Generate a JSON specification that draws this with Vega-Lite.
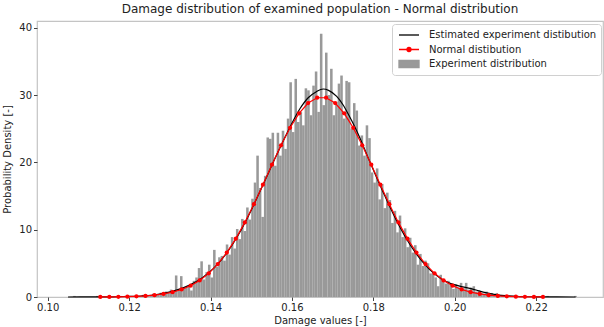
{
  "$schema": "https://vega.github.io/schema/vega-lite/v6.json",
  "width": 566,
  "height": 276,
  "autosize": {"type": "none"},
  "padding": {"left": 37, "top": 21, "right": 1, "bottom": 30},
  "background": "white",
  "title": {"text": "Damage distribution of examined population - Normal distribution", "font": "DejaVu Sans", "fontSize": 12, "fontWeight": "normal", "color": "#222222", "offset": 5, "anchor": "middle"},
  "config": {
    "view": {"stroke": "#c4c4c4", "strokeWidth": 1.2},
    "axis": {"domain": false, "grid": false, "tickColor": "#444444", "tickSize": 3.5, "labelFont": "DejaVu Sans", "labelFontSize": 10, "labelColor": "#222222", "titleFont": "DejaVu Sans", "titleFontSize": 10, "titleFontWeight": "normal", "titleColor": "#222222", "labelPadding": 2}
  },
  "datasets": {
    "hist": [
      {"x": 0.10625, "xe": 0.106875, "d": 0.16},
      {"x": 0.111875, "xe": 0.1125, "d": 0.16},
      {"x": 0.115, "xe": 0.115625, "d": 0.16},
      {"x": 0.1175, "xe": 0.118125, "d": 0.16},
      {"x": 0.119375, "xe": 0.12, "d": 0.16},
      {"x": 0.12, "xe": 0.120625, "d": 0.16},
      {"x": 0.12125, "xe": 0.121875, "d": 0.16},
      {"x": 0.121875, "xe": 0.1225, "d": 0.16},
      {"x": 0.123125, "xe": 0.12375, "d": 0.32},
      {"x": 0.12375, "xe": 0.124375, "d": 0.16},
      {"x": 0.124375, "xe": 0.125, "d": 0.32},
      {"x": 0.125, "xe": 0.125625, "d": 0.16},
      {"x": 0.125625, "xe": 0.12625, "d": 0.48},
      {"x": 0.12625, "xe": 0.126875, "d": 0.32},
      {"x": 0.126875, "xe": 0.1275, "d": 0.32},
      {"x": 0.1275, "xe": 0.128125, "d": 0.64},
      {"x": 0.128125, "xe": 0.12875, "d": 0.48},
      {"x": 0.12875, "xe": 0.129375, "d": 0.8},
      {"x": 0.129375, "xe": 0.13, "d": 0.64},
      {"x": 0.13, "xe": 0.130625, "d": 1.1},
      {"x": 0.130625, "xe": 0.13125, "d": 0.64},
      {"x": 0.13125, "xe": 0.131875, "d": 3.2},
      {"x": 0.131875, "xe": 0.1325, "d": 1.1},
      {"x": 0.1325, "xe": 0.133125, "d": 3.1},
      {"x": 0.133125, "xe": 0.13375, "d": 1.3},
      {"x": 0.13375, "xe": 0.134375, "d": 1.4},
      {"x": 0.134375, "xe": 0.135, "d": 1.6},
      {"x": 0.135, "xe": 0.135625, "d": 0.96},
      {"x": 0.135625, "xe": 0.13625, "d": 2.4},
      {"x": 0.13625, "xe": 0.136875, "d": 2.9},
      {"x": 0.136875, "xe": 0.1375, "d": 4.3},
      {"x": 0.1375, "xe": 0.138125, "d": 5.3},
      {"x": 0.138125, "xe": 0.13875, "d": 2.6},
      {"x": 0.13875, "xe": 0.139375, "d": 3.7},
      {"x": 0.139375, "xe": 0.14, "d": 4.8},
      {"x": 0.14, "xe": 0.140625, "d": 2.9},
      {"x": 0.140625, "xe": 0.14125, "d": 7.0},
      {"x": 0.14125, "xe": 0.141875, "d": 4.5},
      {"x": 0.141875, "xe": 0.1425, "d": 5.9},
      {"x": 0.1425, "xe": 0.143125, "d": 6.1},
      {"x": 0.143125, "xe": 0.14375, "d": 5.4},
      {"x": 0.14375, "xe": 0.144375, "d": 7.8},
      {"x": 0.144375, "xe": 0.145, "d": 6.3},
      {"x": 0.145, "xe": 0.145625, "d": 8.9},
      {"x": 0.145625, "xe": 0.14625, "d": 7.2},
      {"x": 0.14625, "xe": 0.146875, "d": 10.1},
      {"x": 0.146875, "xe": 0.1475, "d": 8.6},
      {"x": 0.1475, "xe": 0.148125, "d": 11.6},
      {"x": 0.148125, "xe": 0.14875, "d": 9.8},
      {"x": 0.14875, "xe": 0.149375, "d": 13.3},
      {"x": 0.149375, "xe": 0.15, "d": 11.5},
      {"x": 0.15, "xe": 0.150625, "d": 14.6},
      {"x": 0.150625, "xe": 0.15125, "d": 17.0},
      {"x": 0.15125, "xe": 0.151875, "d": 21.0},
      {"x": 0.151875, "xe": 0.1525, "d": 16.2},
      {"x": 0.1525, "xe": 0.153125, "d": 11.9},
      {"x": 0.153125, "xe": 0.15375, "d": 18.0},
      {"x": 0.15375, "xe": 0.154375, "d": 23.7},
      {"x": 0.154375, "xe": 0.155, "d": 23.5},
      {"x": 0.155, "xe": 0.155625, "d": 24.4},
      {"x": 0.155625, "xe": 0.15625, "d": 19.5},
      {"x": 0.15625, "xe": 0.156875, "d": 24.4},
      {"x": 0.156875, "xe": 0.1575, "d": 21.0},
      {"x": 0.1575, "xe": 0.158125, "d": 24.7},
      {"x": 0.158125, "xe": 0.15875, "d": 22.0},
      {"x": 0.15875, "xe": 0.159375, "d": 26.5},
      {"x": 0.159375, "xe": 0.16, "d": 31.9},
      {"x": 0.16, "xe": 0.160625, "d": 24.5},
      {"x": 0.160625, "xe": 0.16125, "d": 32.4},
      {"x": 0.16125, "xe": 0.161875, "d": 26.0},
      {"x": 0.161875, "xe": 0.1625, "d": 27.5},
      {"x": 0.1625, "xe": 0.163125, "d": 25.5},
      {"x": 0.163125, "xe": 0.16375, "d": 31.0},
      {"x": 0.16375, "xe": 0.164375, "d": 30.7},
      {"x": 0.164375, "xe": 0.165, "d": 27.0},
      {"x": 0.165, "xe": 0.165625, "d": 31.4},
      {"x": 0.165625, "xe": 0.16625, "d": 33.5},
      {"x": 0.16625, "xe": 0.166875, "d": 27.5},
      {"x": 0.166875, "xe": 0.1675, "d": 39.1},
      {"x": 0.1675, "xe": 0.168125, "d": 28.5},
      {"x": 0.168125, "xe": 0.16875, "d": 36.3},
      {"x": 0.16875, "xe": 0.169375, "d": 30.0},
      {"x": 0.169375, "xe": 0.17, "d": 33.9},
      {"x": 0.17, "xe": 0.170625, "d": 27.0},
      {"x": 0.170625, "xe": 0.17125, "d": 29.0},
      {"x": 0.17125, "xe": 0.171875, "d": 31.7},
      {"x": 0.171875, "xe": 0.1725, "d": 32.9},
      {"x": 0.1725, "xe": 0.173125, "d": 26.5},
      {"x": 0.173125, "xe": 0.17375, "d": 32.1},
      {"x": 0.17375, "xe": 0.174375, "d": 31.9},
      {"x": 0.174375, "xe": 0.175, "d": 25.0},
      {"x": 0.175, "xe": 0.175625, "d": 28.8},
      {"x": 0.175625, "xe": 0.17625, "d": 27.7},
      {"x": 0.17625, "xe": 0.176875, "d": 22.5},
      {"x": 0.176875, "xe": 0.1775, "d": 24.0},
      {"x": 0.1775, "xe": 0.178125, "d": 21.0},
      {"x": 0.178125, "xe": 0.17875, "d": 25.5},
      {"x": 0.17875, "xe": 0.179375, "d": 23.6},
      {"x": 0.179375, "xe": 0.18, "d": 18.5},
      {"x": 0.18, "xe": 0.180625, "d": 17.0},
      {"x": 0.180625, "xe": 0.18125, "d": 19.1},
      {"x": 0.18125, "xe": 0.181875, "d": 14.5},
      {"x": 0.181875, "xe": 0.1825, "d": 16.8},
      {"x": 0.1825, "xe": 0.183125, "d": 13.2},
      {"x": 0.183125, "xe": 0.18375, "d": 15.5},
      {"x": 0.18375, "xe": 0.184375, "d": 14.4},
      {"x": 0.184375, "xe": 0.185, "d": 11.0},
      {"x": 0.185, "xe": 0.185625, "d": 12.8},
      {"x": 0.185625, "xe": 0.18625, "d": 9.6},
      {"x": 0.18625, "xe": 0.186875, "d": 12.1},
      {"x": 0.186875, "xe": 0.1875, "d": 8.9},
      {"x": 0.1875, "xe": 0.188125, "d": 10.2},
      {"x": 0.188125, "xe": 0.18875, "d": 7.4},
      {"x": 0.18875, "xe": 0.189375, "d": 8.8},
      {"x": 0.189375, "xe": 0.19, "d": 6.6},
      {"x": 0.19, "xe": 0.190625, "d": 7.7},
      {"x": 0.190625, "xe": 0.19125, "d": 4.8},
      {"x": 0.19125, "xe": 0.191875, "d": 6.4},
      {"x": 0.191875, "xe": 0.1925, "d": 4.6},
      {"x": 0.1925, "xe": 0.193125, "d": 5.4},
      {"x": 0.193125, "xe": 0.19375, "d": 5.0},
      {"x": 0.19375, "xe": 0.194375, "d": 3.5},
      {"x": 0.194375, "xe": 0.195, "d": 3.5},
      {"x": 0.195, "xe": 0.195625, "d": 2.9},
      {"x": 0.195625, "xe": 0.19625, "d": 1.6},
      {"x": 0.19625, "xe": 0.196875, "d": 3.3},
      {"x": 0.196875, "xe": 0.1975, "d": 2.6},
      {"x": 0.1975, "xe": 0.198125, "d": 2.0},
      {"x": 0.198125, "xe": 0.19875, "d": 2.4},
      {"x": 0.19875, "xe": 0.199375, "d": 1.8},
      {"x": 0.199375, "xe": 0.2, "d": 1.2},
      {"x": 0.2, "xe": 0.200625, "d": 1.9},
      {"x": 0.200625, "xe": 0.20125, "d": 1.4},
      {"x": 0.20125, "xe": 0.201875, "d": 2.1},
      {"x": 0.201875, "xe": 0.2025, "d": 1.3},
      {"x": 0.2025, "xe": 0.203125, "d": 2.1},
      {"x": 0.203125, "xe": 0.20375, "d": 1.1},
      {"x": 0.20375, "xe": 0.204375, "d": 1.4},
      {"x": 0.204375, "xe": 0.205, "d": 1.6},
      {"x": 0.205, "xe": 0.205625, "d": 0.8},
      {"x": 0.205625, "xe": 0.20625, "d": 1.0},
      {"x": 0.20625, "xe": 0.206875, "d": 0.6},
      {"x": 0.206875, "xe": 0.2075, "d": 0.5},
      {"x": 0.2075, "xe": 0.208125, "d": 0.8},
      {"x": 0.208125, "xe": 0.20875, "d": 0.3},
      {"x": 0.20875, "xe": 0.209375, "d": 0.6},
      {"x": 0.209375, "xe": 0.21, "d": 0.3},
      {"x": 0.21, "xe": 0.210625, "d": 0.6},
      {"x": 0.210625, "xe": 0.21125, "d": 0.16},
      {"x": 0.21125, "xe": 0.211875, "d": 0.32},
      {"x": 0.211875, "xe": 0.2125, "d": 0.32},
      {"x": 0.2125, "xe": 0.213125, "d": 0.16},
      {"x": 0.213125, "xe": 0.21375, "d": 0.16},
      {"x": 0.214375, "xe": 0.215, "d": 0.16},
      {"x": 0.215, "xe": 0.215625, "d": 0.16},
      {"x": 0.21625, "xe": 0.216875, "d": 0.16},
      {"x": 0.219375, "xe": 0.22, "d": 0.16},
      {"x": 0.2225, "xe": 0.223125, "d": 0.16},
      {"x": 0.229375, "xe": 0.23, "d": 0.16}
    ],
    "kde": [
      {"x": 0.105, "d": 0.0}, {"x": 0.108, "d": 0.005}, {"x": 0.111, "d": 0.01}, {"x": 0.114, "d": 0.02},
      {"x": 0.117, "d": 0.04}, {"x": 0.12, "d": 0.08}, {"x": 0.123, "d": 0.15}, {"x": 0.126, "d": 0.3},
      {"x": 0.129, "d": 0.62}, {"x": 0.132, "d": 1.1}, {"x": 0.135, "d": 1.8}, {"x": 0.138, "d": 2.85},
      {"x": 0.141, "d": 4.4}, {"x": 0.144, "d": 6.55}, {"x": 0.147, "d": 9.4}, {"x": 0.15, "d": 12.9},
      {"x": 0.153, "d": 16.8}, {"x": 0.156, "d": 20.8}, {"x": 0.159, "d": 24.6}, {"x": 0.162, "d": 28.0},
      {"x": 0.164, "d": 29.6}, {"x": 0.166, "d": 30.5}, {"x": 0.1677, "d": 30.9}, {"x": 0.169, "d": 30.7},
      {"x": 0.171, "d": 29.8}, {"x": 0.1725, "d": 28.6}, {"x": 0.174, "d": 27.0}, {"x": 0.1755, "d": 25.2},
      {"x": 0.177, "d": 23.2}, {"x": 0.1785, "d": 21.0}, {"x": 0.18, "d": 18.9}, {"x": 0.183, "d": 14.8},
      {"x": 0.186, "d": 11.0}, {"x": 0.189, "d": 7.8}, {"x": 0.192, "d": 5.3}, {"x": 0.195, "d": 3.45},
      {"x": 0.198, "d": 2.25}, {"x": 0.201, "d": 1.65}, {"x": 0.204, "d": 1.25}, {"x": 0.207, "d": 0.72},
      {"x": 0.21, "d": 0.36}, {"x": 0.213, "d": 0.16}, {"x": 0.216, "d": 0.07}, {"x": 0.22, "d": 0.03},
      {"x": 0.225, "d": 0.01}, {"x": 0.2297, "d": 0.0}
    ],
    "norm": [
      {"x": 0.11292, "d": 0.0082}, {"x": 0.11514, "d": 0.0158}, {"x": 0.11736, "d": 0.0296}, {"x": 0.11958, "d": 0.0539},
      {"x": 0.1218, "d": 0.0957}, {"x": 0.12402, "d": 0.165}, {"x": 0.12624, "d": 0.278}, {"x": 0.12846, "d": 0.454},
      {"x": 0.13068, "d": 0.722}, {"x": 0.1329, "d": 1.118}, {"x": 0.13512, "d": 1.684}, {"x": 0.13734, "d": 2.468},
      {"x": 0.13956, "d": 3.521}, {"x": 0.14178, "d": 4.886}, {"x": 0.144, "d": 6.597}, {"x": 0.14622, "d": 8.668},
      {"x": 0.14844, "d": 11.08}, {"x": 0.15066, "d": 13.79}, {"x": 0.15288, "d": 16.69}, {"x": 0.1551, "d": 19.66},
      {"x": 0.15732, "d": 22.54}, {"x": 0.15954, "d": 25.14}, {"x": 0.16176, "d": 27.28}, {"x": 0.16398, "d": 28.81},
      {"x": 0.1662, "d": 29.6}, {"x": 0.1684, "d": 29.6}, {"x": 0.17062, "d": 28.81}, {"x": 0.17284, "d": 27.28},
      {"x": 0.17506, "d": 25.14}, {"x": 0.17728, "d": 22.54}, {"x": 0.1795, "d": 19.66}, {"x": 0.18172, "d": 16.69},
      {"x": 0.18394, "d": 13.79}, {"x": 0.18616, "d": 11.08}, {"x": 0.18838, "d": 8.668}, {"x": 0.1906, "d": 6.597},
      {"x": 0.19282, "d": 4.886}, {"x": 0.19504, "d": 3.521}, {"x": 0.19726, "d": 2.468}, {"x": 0.19948, "d": 1.684},
      {"x": 0.2017, "d": 1.118}, {"x": 0.20392, "d": 0.722}, {"x": 0.20614, "d": 0.454}, {"x": 0.20836, "d": 0.278},
      {"x": 0.21058, "d": 0.165}, {"x": 0.2128, "d": 0.0957}, {"x": 0.21502, "d": 0.0539}, {"x": 0.21724, "d": 0.0296},
      {"x": 0.21946, "d": 0.0158}, {"x": 0.22168, "d": 0.0082}
    ]
  },
  "layer": [
    {
      "data": {"name": "hist"},
      "mark": {"type": "bar", "color": "#999999", "strokeWidth": 0, "orient": "vertical"},
      "encoding": {
        "x": {"field": "x", "type": "quantitative", "title": "Damage values [-]",
              "scale": {"domain": [0.0986, 0.2352], "nice": false, "zero": false},
              "axis": {"values": [0.1, 0.12, 0.14, 0.16, 0.18, 0.2, 0.22], "format": ".2f", "titlePadding": 3}},
        "x2": {"field": "xe"},
        "y": {"field": "d", "type": "quantitative", "title": "Probability Density [-]",
              "scale": {"domain": [0, 41], "nice": false, "zero": true},
              "axis": {"values": [0, 5, 10, 15, 20, 25, 30, 35, 40], "titlePadding": 6}},
        "y2": {"datum": 0},
        "color": {"datum": "Experiment distribution", "type": "nominal",
          "scale": {"domain": ["Estimated experiment distibution", "Normal distibution", "Experiment distribution"], "range": ["black", "red", "#999999"]},
          "legend": {
            "title": null, "orient": "none", "legendX": 355, "legendY": 3,
            "padding": 4, "strokeColor": "#d0d0d0", "fillColor": "white", "cornerRadius": 3,
            "labelFont": "DejaVu Sans", "labelFontSize": 10, "labelColor": "#222222", "labelLimit": 300,
            "symbolSize": 144, "rowPadding": 2.5, "symbolOffset": 6, "labelOffset": 13,
            "encode": {"symbols": {"update": {
              "shape": {"signal": "datum.value === 'Experiment distribution' ? 'M-1.67,-0.58L1.67,-0.58L1.67,0.58L-1.67,0.58Z' : (datum.value === 'Normal distibution' ? 'M-1.67,0L1.67,0M0.33,0A0.33,0.33 0 1,1 -0.33,0A0.33,0.33 0 1,1 0.33,0' : 'M-1.67,0L1.67,0')"},
              "fill": {"signal": "datum.value === 'Experiment distribution' ? '#999999' : (datum.value === 'Normal distibution' ? 'red' : 'transparent')"},
              "stroke": {"signal": "datum.value === 'Experiment distribution' ? 'transparent' : (datum.value === 'Normal distibution' ? 'red' : 'black')"},
              "strokeWidth": {"value": 1.3},
              "opacity": {"value": 1}, "fillOpacity": {"value": 1}, "strokeOpacity": {"value": 1}
            }}}
          }
        }
      }
    },
    {
      "data": {"name": "kde"},
      "mark": {"type": "line", "color": "black", "strokeWidth": 1.2, "interpolate": "monotone"},
      "encoding": {
        "x": {"field": "x", "type": "quantitative", "title": "Damage values [-]"},
        "y": {"field": "d", "type": "quantitative", "title": "Probability Density [-]"},
        "color": {"datum": "Estimated experiment distibution", "type": "nominal"}
      }
    },
    {
      "data": {"name": "norm"},
      "mark": {"type": "line", "color": "red", "strokeWidth": 1.2, "point": {"filled": true, "size": 18, "color": "red"}},
      "encoding": {
        "x": {"field": "x", "type": "quantitative", "title": "Damage values [-]"},
        "y": {"field": "d", "type": "quantitative", "title": "Probability Density [-]"},
        "color": {"datum": "Normal distibution", "type": "nominal"}
      }
    }
  ]
}
